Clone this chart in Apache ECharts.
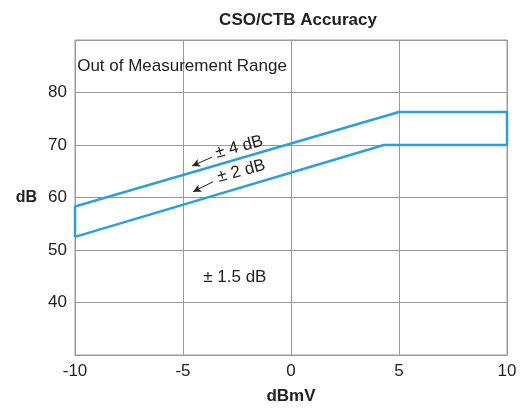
<!DOCTYPE html>
<html>
<head>
<meta charset="utf-8">
<script src="https://cdn.jsdelivr.net/npm/echarts@6/dist/echarts.min.js"></script>
<style>
html,body{margin:0;padding:0;background:#fff;}
#chart{width:520px;height:410px;}
</style>
</head>
<body>
<div id="chart"></div>
<script>
// x ticks (dBmV) and y ticks (dB)
const xTicks = [-10, -5, 0, 5, 10];
const yTicks = [40, 50, 60, 70, 80];
// Accuracy boundary outline (dBmV, dB): closed band between ±2 dB and ±4 dB regions
const bandOutline = [[-10, 52.5], [-10, 58.3], [5, 76.3], [10, 76.3], [10, 70], [4.3, 70], [-10, 52.5]];
// Annotation labels (dBmV, dB, text)
const regionLabels = [
  [-9.9, 84.9, 'Out of Measurement Range'],
  [-2.6, 44.8, '\u00b1 1.5 dB']
];
const slopedLabels = [
  [-2.4, 69.6, '\u00b1 4 dB'],
  [-2.3, 65.0, '\u00b1 2 dB']
];
// Leader arrows (from, to)
const arrows = [
  [[-3.65, 67.7], [-4.58, 66.0]],
  [[-3.61, 63.0], [-4.53, 61.1]]
];

const FONT = 'Liberation Sans, Arial, sans-serif';
const TXT = '#222';
const GRID = '#9a9a9a';
const BLUE = '#2ba0da';

const chart = echarts.init(document.getElementById('chart'), null, {renderer: 'canvas'});
chart.setOption({
  animation: false,
  backgroundColor: '#fff',
  title: {
    text: 'CSO/CTB Accuracy',
    left: 293, top: 7, textAlign: 'center',
    textStyle: {fontFamily: FONT, fontSize: 17, fontWeight: 'bold', color: TXT}
  },
  grid: {left: 75, right: 13, top: 40, bottom: 51, show: true, borderColor: GRID, borderWidth: 1},
  xAxis: {
    type: 'value', min: xTicks[0], max: xTicks[xTicks.length - 1], interval: 5,
    name: 'dBmV', nameLocation: 'middle', nameGap: 33,
    nameTextStyle: {fontFamily: FONT, fontSize: 17, fontWeight: 'bold', color: TXT},
    axisLine: {show: true, lineStyle: {color: GRID}},
    axisTick: {show: false},
    axisLabel: {fontFamily: FONT, fontSize: 17, color: TXT, margin: 8},
    splitLine: {show: true, lineStyle: {color: GRID, width: 1}}
  },
  yAxis: {
    type: 'value', min: 30, max: 90, interval: 10,
    name: 'dB', nameLocation: 'middle', nameRotate: 0, nameGap: 38,
    nameTextStyle: {fontFamily: FONT, fontSize: 16, fontWeight: 'bold', color: TXT, padding: [0, 0, 13, 0]},
    axisLine: {show: true, lineStyle: {color: GRID}},
    axisTick: {show: false},
    axisLabel: {
      fontFamily: FONT, fontSize: 17, color: TXT, margin: 8, padding: [0, 0, 10, 0],
      formatter: v => (yTicks.indexOf(v) >= 0 ? String(v) : '')
    },
    splitLine: {show: true, lineStyle: {color: GRID, width: 1}}
  },
  series: [
    {
      type: 'line', data: bandOutline, symbol: 'none', silent: true,
      lineStyle: {color: BLUE, width: 2.5}, z: 5
    },
    {
      type: 'scatter', symbolSize: 0, silent: true,
      itemStyle: {opacity: 1},
      data: regionLabels.map((d, i) => ({
        value: [d[0], d[1]], name: d[2],
        label: i === 0 ? {position: 'right', distance: 0} : {}
      })),
      label: {
        show: true, position: 'inside', formatter: p => p.name,
        fontFamily: FONT, fontSize: 17, color: TXT
      },
      z: 6
    },
    {
      type: 'scatter', symbolSize: 0, silent: true,
      itemStyle: {opacity: 1},
      data: slopedLabels.map(d => ({value: [d[0], d[1]], name: d[2]})),
      label: {
        show: true, position: 'inside', formatter: p => p.name, rotate: 15,
        fontFamily: FONT, fontSize: 17, color: TXT
      },
      markLine: {
        silent: true, symbol: ['none', 'arrow'], symbolSize: [6, 8],
        label: {show: false},
        lineStyle: {color: '#222', width: 1, type: 'solid'},
        data: arrows.map(a => [{coord: a[0]}, {coord: a[1]}])
      },
      z: 6
    }
  ]
});
</script>
</body>
</html>
